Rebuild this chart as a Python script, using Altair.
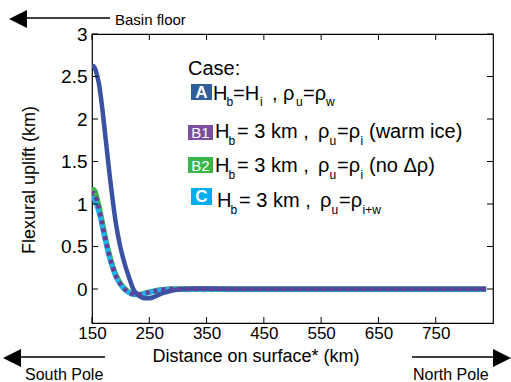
import altair as alt
import pandas as pd

# ---- data (km) ----
x_A = [150, 153, 157, 162, 167, 172, 177, 182, 187, 192, 198, 204, 210, 216, 222, 229, 237, 246, 256, 266, 278, 292, 310, 340, 400, 500, 600, 700, 838]
y_A = [2.60, 2.62, 2.56, 2.42, 2.18, 1.88, 1.57, 1.27, 1.00, 0.76, 0.54, 0.37, 0.23, 0.11, 0.0, -0.06, -0.10, -0.11, -0.10, -0.07, -0.04, -0.015, 0.0, 0.005, 0.0, 0.0, 0.0, 0.0, 0.0]

x_B = [150, 152, 155, 160, 165, 170, 175, 180, 186, 192, 199, 206, 214, 222, 232, 242, 255, 270, 290, 400, 600, 838]
y_B1 = [1.10, 1.13, 1.11, 1.00, 0.86, 0.69, 0.54, 0.40, 0.26, 0.15, 0.065, 0.005, -0.04, -0.06, -0.065, -0.05, -0.03, -0.01, 0.0, 0.0, 0.0, 0.0]
y_B2 = [1.14, 1.17, 1.15, 1.03, 0.88, 0.71, 0.55, 0.41, 0.27, 0.16, 0.07, 0.01, -0.035, -0.06, -0.065, -0.05, -0.03, -0.01, 0.0, 0.0, 0.0, 0.0]
y_C = [1.05, 1.07, 1.04, 0.95, 0.83, 0.67, 0.52, 0.38, 0.25, 0.14, 0.06, 0.0, -0.04, -0.065, -0.07, -0.055, -0.03, -0.01, -0.004, -0.004, -0.004, -0.004]

x_ticks = [150, 250, 350, 450, 550, 650, 750]
y_ticks = [0, 0.5, 1, 1.5, 2, 2.5, 3]

FONT = "Liberation Sans"
W, H = 401, 289

xs = alt.Scale(domain=[150, 850], nice=False, zero=False)
ys = alt.Scale(domain=[-0.4, 3], nice=False, zero=False)
XA = alt.Axis(values=x_ticks, ticks=False, domain=False, grid=False, title=None, labelFlush=False,
              labelOverlap=False, labelFontSize=17, labelFont=FONT, labelColor="black", labelPadding=2)
YA = alt.Axis(values=y_ticks, ticks=False, domain=False, grid=False, title=None, format="~g", labelFlush=False,
              labelOverlap=False, labelFontSize=19, labelFont=FONT, labelColor="black", labelPadding=5)


def curve(xv, yv, color, width, dash=None):
    df = pd.DataFrame({"x": xv, "y": yv})
    kw = dict(color=color, strokeWidth=width, interpolate="monotone", clip=True)
    if dash:
        kw["strokeDash"] = dash
        kw["strokeCap"] = "butt"
    return alt.Chart(df).mark_line(**kw).encode(
        x=alt.X("x:Q", scale=xs, axis=XA),
        y=alt.Y("y:Q", scale=ys, axis=YA),
    )


lines = [
    curve(x_B, y_B2, "#3db54a", 5.5),
    curve(x_B, y_C, "#1cb2ea", 5),
    curve(x_A, y_A, "#3a52a4", 4.5),
    curve(x_B, y_B1, "#6a3d98", 4.5, dash=[4, 4]),
]

# inward ticks on all four sides
xt = pd.DataFrame({"x": x_ticks})
yt = pd.DataFrame({"y": y_ticks})
ticks = [
    alt.Chart(xt).mark_rule(color="black", strokeWidth=1).encode(
        x=alt.X("x:Q", scale=xs, axis=XA), y=alt.value(H), y2=alt.value(H - 6)),
    alt.Chart(xt).mark_rule(color="black", strokeWidth=1).encode(
        x=alt.X("x:Q", scale=xs, axis=XA), y=alt.value(0), y2=alt.value(6)),
    alt.Chart(yt).mark_rule(color="black", strokeWidth=1).encode(
        y=alt.Y("y:Q", scale=ys, axis=YA), x=alt.value(0), x2=alt.value(6)),
    alt.Chart(yt).mark_rule(color="black", strokeWidth=1).encode(
        y=alt.Y("y:Q", scale=ys, axis=YA), x=alt.value(W), x2=alt.value(W - 6)),
]

one = pd.DataFrame({"k": [0]})


def txt(s, x, y, size=20, align="left", baseline="alphabetic", color="black", weight="normal", angle=None):
    kw = dict(font=FONT, fontSize=size, align=align, baseline=baseline, color=color, fontWeight=weight)
    if angle is not None:
        kw["angle"] = angle
    return alt.Chart(one).mark_text(**kw).encode(x=alt.value(x), y=alt.value(y), text=alt.value(s))


def box(x1, x2, y1, y2, color):
    return alt.Chart(one).mark_rect(color=color).encode(
        x=alt.value(x1), x2=alt.value(x2), y=alt.value(y1), y2=alt.value(y2))


def hline(x1, x2, y, w=1.5):
    return alt.Chart(one).mark_rule(color="black", strokeWidth=w).encode(
        x=alt.value(x1), x2=alt.value(x2), y=alt.value(y))


def tri(x, y, shape, size=324):
    return alt.Chart(one).mark_point(shape=shape, size=size, filled=True, color="black", opacity=1,
                                     strokeWidth=0).encode(x=alt.value(x), y=alt.value(y))


LEFT = "M1,-1L-1,0L1,1Z"
RIGHT = "M-1,-1L1,0L-1,1Z"

legend = [
    txt("Case:", 96, 41),
    # A
    box(99, 120, 50, 66, "#2f5e9a"),
    txt("A", 109.5, 58.5, size=17, align="center", baseline="middle", color="white", weight="bold"),
    txt("H", 121, 66), txt("b", 134.5, 72, size=12), txt("=H", 141, 66), txt("i", 168, 72, size=12),
    txt(", ρ", 180, 66), txt("u", 204, 72, size=12), txt("=ρ", 211, 66), txt("w", 234, 72, size=12),
    # B1
    box(96, 121, 91, 106, "#7b4f9e"),
    txt("B1", 108.5, 99, size=15, align="center", baseline="middle", color="white"),
    txt("H", 123, 104), txt("b", 136.5, 111, size=12), txt("= 3 km ,", 145, 104),
    txt("ρ", 226, 104), txt("u", 237.5, 111, size=12), txt("=ρ", 245, 104), txt("i", 268.5, 111, size=12),
    txt("(warm ice)", 277, 104),
    # B2
    box(96, 121, 123, 139, "#3ab54a"),
    txt("B2", 108.5, 131.5, size=15, align="center", baseline="middle", color="white"),
    txt("H", 123, 138), txt("b", 136.5, 145, size=12), txt("= 3 km ,", 145, 138),
    txt("ρ", 226, 138), txt("u", 237.5, 145, size=12), txt("=ρ", 245, 138), txt("i", 268.5, 145, size=12),
    txt("(no Δρ)", 277, 138),
    # C
    box(99, 120, 154, 171, "#00aeef"),
    txt("C", 109.5, 163, size=17, align="center", baseline="middle", color="white", weight="bold"),
    txt("H", 125, 173), txt("b", 138.5, 180, size=12), txt("= 3 km ,", 147, 173),
    txt("ρ", 228, 173), txt("u", 239.5, 180, size=12), txt("=ρ", 247, 173), txt("i+w", 270.5, 180, size=12),
]

annot = [
    # titles
    txt("Distance on surface* (km)", 164, 323, size=18, align="center", baseline="middle"),
    txt("Flexural uplift (km)", -62, 146, size=18, align="center", baseline="middle", angle=270),
    # top arrow
    hline(-72, 18, -16), tri(-74, -15, LEFT), txt("Basin floor", 23, -9, size=15),
    # bottom left arrow
    hline(-72, 13, 323), tri(-80, 324, LEFT), txt("South Pole", -67, 346, size=16),
    # bottom right arrow
    hline(320, 405, 323), tri(410, 324, RIGHT), txt("North Pole", 321, 346, size=16),
]

chart = alt.layer(*lines, *ticks, *legend, *annot).properties(
    width=W, height=H,
    autosize=alt.AutoSizeParams(type="none"),
    padding={"left": 92, "top": 34, "right": 18, "bottom": 59},
    background="white",
).configure_view(stroke="black", strokeWidth=1.2)

chart.save("out.html", embed_options={"renderer": "svg", "actions": False})
